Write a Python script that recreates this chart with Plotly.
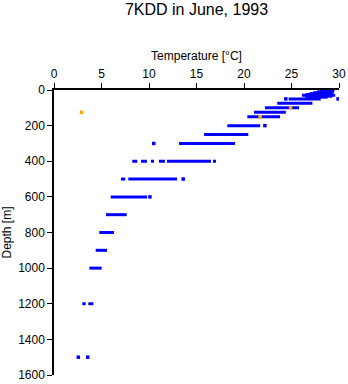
import plotly.graph_objects as go

# Horizontal runs of observations (depth level, min temp, max temp)
seg_depth = [0, 5, 10, 15, 20, 25, 30, 35, 40,
             50, 75, 100, 125, 150, 200, 250, 300,
             400, 400, 400, 400, 400, 400,
             500, 500, 600, 700, 800, 900, 1000, 1200, 1200]
seg_tmin = [28.3, 28.0, 27.7, 27.3, 26.9, 26.5, 26.1, 26.4, 26.6,
            24.7, 23.5, 22.2, 21.05, 20.35, 18.25, 15.8, 13.16,
            8.24, 9.16, 10.21, 11.05, 11.89, 16.74,
            7.05, 7.82, 5.97, 5.47, 4.77, 4.39, 3.72, 2.98, 3.61]
seg_tmax = [29.5, 29.5, 29.4, 29.4, 29.4, 29.3, 29.6, 29.3, 28.8,
            28.07, 27.2, 25.8, 24.4, 23.8, 21.7, 20.45, 19.05,
            8.77, 9.79, 10.53, 11.68, 16.53, 17.05,
            7.5, 12.95, 9.8, 7.65, 6.32, 5.58, 5.02, 3.33, 4.14]

# Isolated blue observations
pt_depth = [50, 50, 200, 300, 500, 600, 1500, 1500]
pt_temp = [24.4, 29.9, 22.2, 10.5, 13.6, 10.1, 2.56, 3.55]

# Flagged (orange) observations
flag_depth = [125, 100, 150]
flag_temp = [2.9, 24.9, 21.7]

xs, ys = [], []
for d, a, b in zip(seg_depth, seg_tmin, seg_tmax):
    xs += [a, b, None]
    ys += [d, d, None]

fig = go.Figure()
fig.add_trace(go.Scatter(x=xs, y=ys, mode="lines",
                         line=dict(color="#0000FF", width=3),
                         hoverinfo="skip", showlegend=False))
fig.add_trace(go.Scatter(x=pt_temp, y=pt_depth, mode="markers",
                         marker=dict(color="#0000FF", size=3.5, symbol="square",
                                     line=dict(width=0)),
                         showlegend=False))
fig.add_trace(go.Scatter(x=flag_temp, y=flag_depth, mode="markers",
                         marker=dict(color="#FFA500", size=3.5, symbol="square",
                                     line=dict(width=0)),
                         showlegend=False))

font_family = "Liberation Sans, Arial, sans-serif"
fig.update_layout(
    width=348, height=384,
    margin=dict(l=54, r=9, t=90, b=9, autoexpand=False),
    paper_bgcolor="white", plot_bgcolor="white",
    font=dict(family=font_family, size=12, color="black"),
    title=dict(text="7KDD in June, 1993", x=(54 + 339) / 2 / 348, xanchor="center",
               y=1 - 9 / 384, yanchor="middle", yref="container",
               pad=dict(t=0, b=0),
               font=dict(size=16, family=font_family, color="black")),
    xaxis=dict(side="top", range=[0, 30], tickvals=[0, 5, 10, 15, 20, 25, 30],
               ticks="outside", ticklen=5, tickcolor="black", tickwidth=1,
               showline=True, linecolor="black", linewidth=1.5, mirror=False,
               showgrid=False, zeroline=False, automargin=False,
               title=dict(text="Temperature [°C]", standoff=4,
                          font=dict(size=12))),
    yaxis=dict(range=[1600, 0], tickvals=[0, 200, 400, 600, 800, 1000, 1200, 1400, 1600],
               ticks="outside", ticklen=5, tickcolor="black", tickwidth=1,
               showline=True, linecolor="black", linewidth=1.5, mirror=False,
               showgrid=False, zeroline=False, automargin=False,
               title=dict(text="Depth [m]", standoff=6, font=dict(size=12))),
)

fig.write_html("out.html")
